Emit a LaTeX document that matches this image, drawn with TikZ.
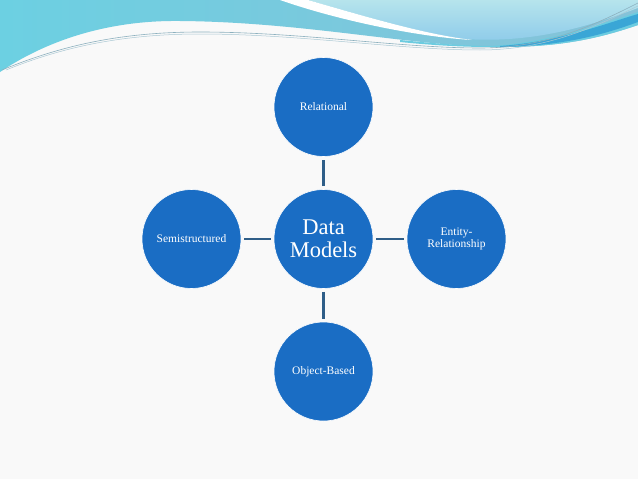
\documentclass[tikz,border=0pt]{standalone}
\usepackage{fontspec}
\setmainfont{Liberation Serif}
\definecolor{circ}{HTML}{1A6DC4}
\definecolor{conncol}{HTML}{2F5E88}
\definecolor{bgcol}{HTML}{F9F9F9}
\definecolor{waveA}{RGB}{108,208,226}
\definecolor{waveB}{RGB}{134,194,216}
\definecolor{waveC}{RGB}{182,228,236}
\definecolor{waveD}{RGB}{140,202,234}
\definecolor{waveE}{RGB}{108,204,224}
\definecolor{waveF}{RGB}{58,166,214}
\definecolor{thinA}{RGB}{140,176,190}
\definecolor{thinB}{RGB}{170,200,212}
\tikzset{
  bubble/.style={circle, fill=circ, draw=white, line width=0.6pt, minimum size=99pt, inner sep=0pt, text=white, align=center, font=\fontsize{11.5}{12.5}\selectfont},
  bigbubble/.style={bubble, font=\fontsize{22.5}{23}\selectfont},
  conn/.style={draw=conncol, line width=2.4pt, shorten <=3pt, shorten >=3pt}
}
\begin{document}
\begin{tikzpicture}[x=1pt,y=-1pt]
\useasboundingbox (0,0) rectangle (638,479);
\fill[bgcol] (0,0) rectangle (638,479);
% top waves
\shade[left color=waveA, right color=waveB]
  (0,0) -- (638,0) -- (638,25) .. controls (600,38) and (560,48) .. (490,47)
  .. controls (400,44) and (300,22) .. (180,21) .. controls (100,20) and (40,45) .. (0,72) -- cycle;
\shade[top color=waveC, bottom color=waveD]
  (308,0) .. controls (360,15) and (420,33) .. (465,39) .. controls (540,44) and (600,22) .. (638,8) -- (638,0) -- cycle;
\fill[white] (280,0) .. controls (340,21) and (420,37) .. (472,40) -- (465,39) .. controls (420,33) and (360,15) .. (308,0) -- cycle;
\fill[waveE] (400,40) .. controls (440,44) and (470,46) .. (490,46) .. controls (540,44) and (600,25) .. (638,12) -- (638,25) .. controls (600,38) and (560,48) .. (490,47) .. controls (460,47) and (430,45) .. (400,42) -- cycle;
\fill[waveF] (500,46) .. controls (560,42) and (610,22) .. (638,14) -- (638,22) .. controls (600,36) and (560,46) .. (500,47) -- cycle;
\draw[thinA, line width=0.6pt]
  (2,70) .. controls (60,46) and (120,32) .. (200,32) .. controls (300,32) and (400,48) .. (480,48) .. controls (550,48) and (600,22) .. (638,3);
\draw[thinB, line width=0.5pt]
  (6,70) .. controls (60,48) and (120,34) .. (200,34) .. controls (300,34) and (400,50) .. (480,50) .. controls (550,50) and (600,24) .. (638,6);
% nodes
\node[bigbubble] (dm) at (323.5,239) {Data\\Models};
\node[bubble] (rel) at (323.5,107) {Relational};
\node[bubble] (er) at (456.5,239) {Entity-\\Relationship};
\node[bubble] (ob) at (323.5,371.5) {Object-Based};
\node[bubble] (semi) at (191.5,239) {Semistructured};
% connectors
\draw[conn] (dm) -- (rel);
\draw[conn] (dm) -- (er);
\draw[conn] (dm) -- (ob);
\draw[conn] (dm) -- (semi);
\end{tikzpicture}
\end{document}
